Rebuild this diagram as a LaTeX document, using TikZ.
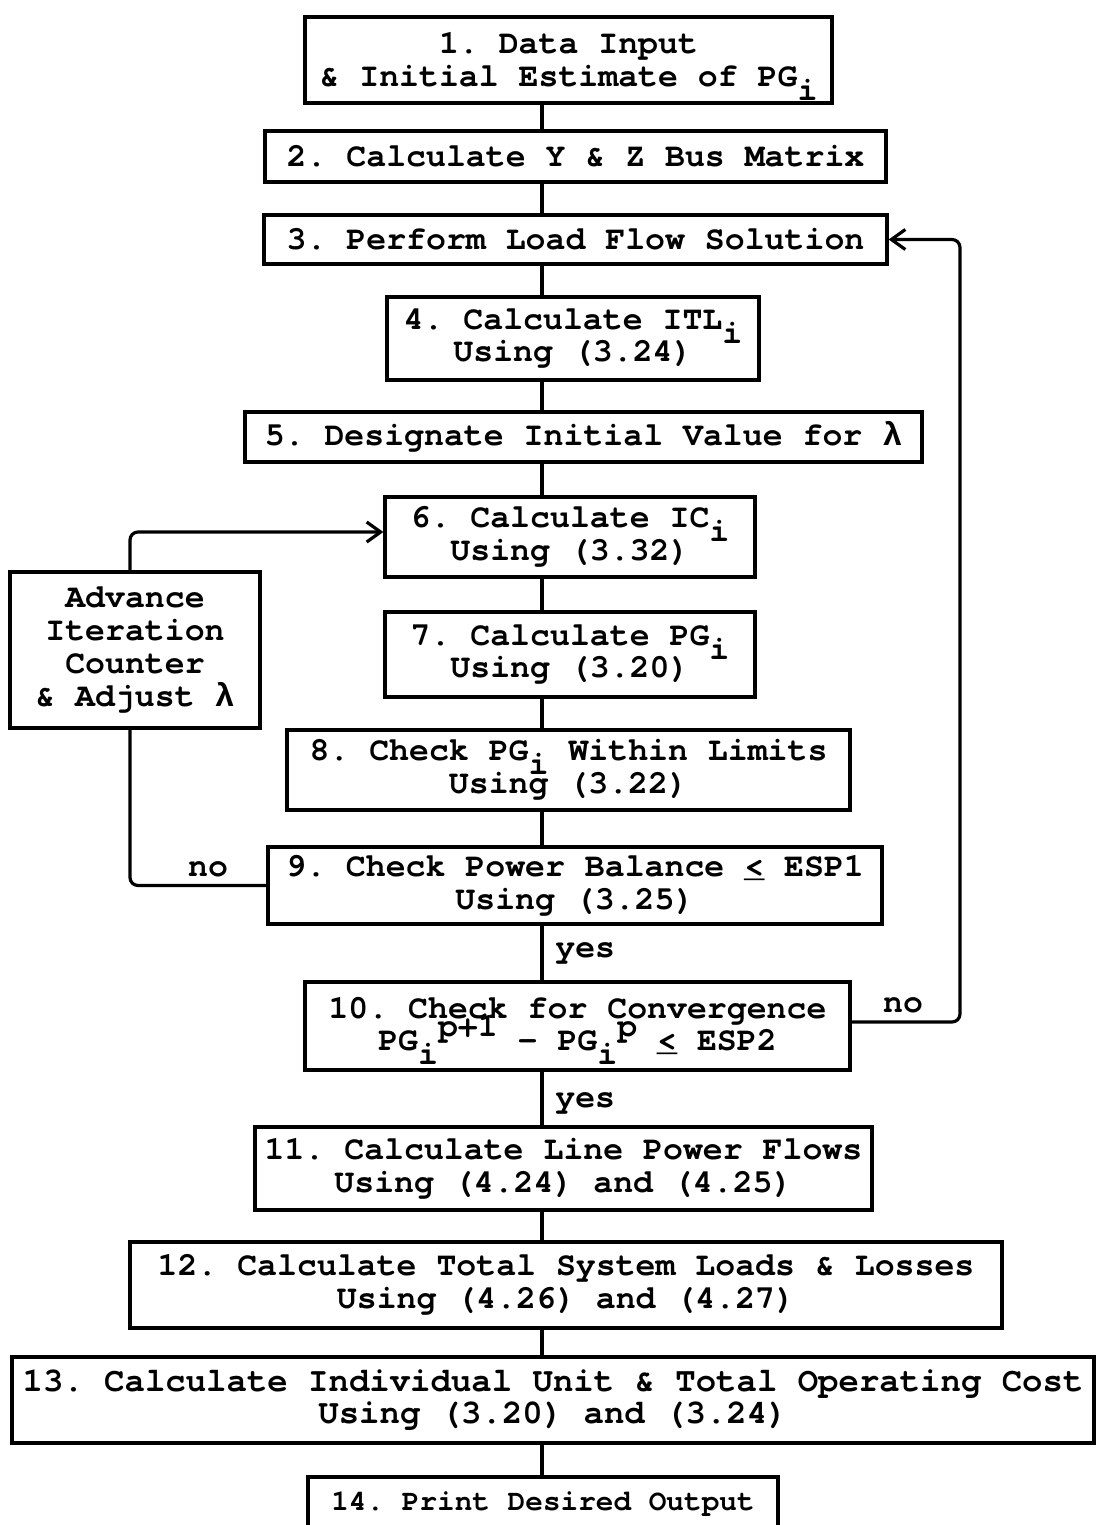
\documentclass[tikz,border=0pt]{standalone}
\usepackage{fontspec}
\newfontfamily\tw{TeX Gyre Cursor}
\newfontfamily\gk{Liberation Mono}
\usetikzlibrary{arrows.meta}
\newcommand\sbi{\smash{\raisebox{-0.42em}{i}}}
\newcommand\supx[1]{\smash{\raisebox{0.42em}{#1}}}
\newcommand\leqs{\rlap{\_}<}
\newcommand\lam{{\gk\bfseries λ}}
\tikzset{
  box/.style={draw, line width=1.6pt, align=center, inner sep=0pt,
    font=\tw\bfseries\frenchspacing\fontsize{16.6}{16.4}\selectfont},
  conn/.style={line width=1.6pt},
  arr/.style={conn, rounded corners=4pt, -{Straight Barb[length=7pt,width=10pt,line width=1.6pt]}},
  lab/.style={inner sep=0pt, font=\tw\bfseries\fontsize{16.6}{16.4}\selectfont}
}
\begin{document}
\begin{tikzpicture}[x=0.5pt,y=-0.5pt]
\useasboundingbox (0,0) rectangle (1096,1525);
\clip (0,0) rectangle (1096,1525);
\coordinate (spine) at (542,0);
\coordinate (loopL) at (130,0);
\coordinate (loopR) at (960,0);

\node[box, minimum width=263.5pt, minimum height=43pt] (b1) at (568.5,60)
  {1. Data Input\\\& Initial Estimate of PG\sbi};
\node[box, minimum width=310.5pt, minimum height=25.5pt] (b2) at (575.5,156.5)
  {2. Calculate Y \& Z Bus Matrix};
\node[box, minimum width=311.5pt, minimum height=24.5pt] (b3) at (575.5,239.5)
  {3. Perform Load Flow Solution};
\node[box, minimum width=186pt, minimum height=41.5pt] (b4) at (573,338.5)
  {4. Calculate ITL\sbi\\Using (3.24)};
\node[box, minimum width=338.5pt, minimum height=25pt] (b5) at (583.5,437)
  {5. Designate Initial Value for \lam};
\node[box, minimum width=185pt, minimum height=40pt] (b6) at (570,537)
  {6. Calculate IC\sbi\\Using (3.32)};
\node[box, minimum width=185pt, minimum height=42.5pt] (b7) at (570,654.5)
  {7. Calculate PG\sbi\\Using (3.20)};
\node[box, minimum width=281.5pt, minimum height=40pt] (b8) at (568.5,770)
  {8. Check PG\sbi{} Within Limits\\Using (3.22)};
\node[box, minimum width=307pt, minimum height=38.5pt] (b9) at (575,885.5)
  {9. Check Power Balance \leqs{} ESP1\\Using (3.25)};
\node[box, minimum width=272.5pt, minimum height=44pt] (b10) at (577.5,1026)
  {10. Check for Convergence\\PG\sbi\supx{p+1} - PG\sbi\supx{p} \leqs{} ESP2};
\node[box, minimum width=308.5pt, minimum height=41.5pt] (b11) at (563.5,1168.5)
  {11. Calculate Line Power Flows\\Using (4.24) and (4.25)};
\node[box, minimum width=436pt, minimum height=43pt] (b12) at (566,1285)
  {12. Calculate Total System Loads \& Losses\\Using (4.26) and (4.27)};
\node[box, minimum width=541pt, minimum height=43pt, font=\tw\bfseries\frenchspacing\fontsize{17}{16.4}\selectfont] (b13) at (553,1400)
  {13. Calculate Individual Unit \& Total Operating Cost\\Using (3.20) and (3.24)};
\node[box, minimum width=235pt, minimum height=27.5pt, font=\tw\bfseries\frenchspacing\fontsize{14.7}{15}\selectfont] (b14) at (543,1504.5)
  {14. Print Desired Output};
\node[box, minimum width=125pt, minimum height=78pt] (adv) at (135,650)
  {Advance\\Iteration\\Counter\\\& Adjust \lam};

% main spine
\draw[conn] (b1.south -| spine) -- (b2.north -| spine);
\draw[conn] (b2.south -| spine) -- (b3.north -| spine);
\draw[conn] (b3.south -| spine) -- (b4.north -| spine);
\draw[conn] (b4.south -| spine) -- (b5.north -| spine);
\draw[conn] (b5.south -| spine) -- (b6.north -| spine);
\draw[conn] (b6.south -| spine) -- (b7.north -| spine);
\draw[conn] (b7.south -| spine) -- (b8.north -| spine);
\draw[conn] (b8.south -| spine) -- (b9.north -| spine);
\draw[conn] (b9.south -| spine) -- (b10.north -| spine);
\draw[conn] (b10.south -| spine) -- (b11.north -| spine);
\draw[conn] (b11.south -| spine) -- (b12.north -| spine);
\draw[conn] (b12.south -| spine) -- (b13.north -| spine);
\draw[conn] (b13.south -| spine) -- (b14.north -| spine);

% inner loop
\draw[conn, rounded corners=4pt] (b9.west) -| (adv.south -| loopL);
\draw[arr] (adv.north -| loopL) |- ([yshift=2.5pt]b6.west);
% outer loop
\draw[arr] ([yshift=2pt]b10.east) -| (loopR |- b3.east) -- (b3.east);

\node[lab] (no1) at (208,869) {no};
\node[lab] (no2) at (903,1005) {no};
\node[lab, anchor=west] (yes1) at (555,953) {yes};
\node[lab, anchor=west] (yes2) at (555,1103) {yes};
\end{tikzpicture}
\end{document}
